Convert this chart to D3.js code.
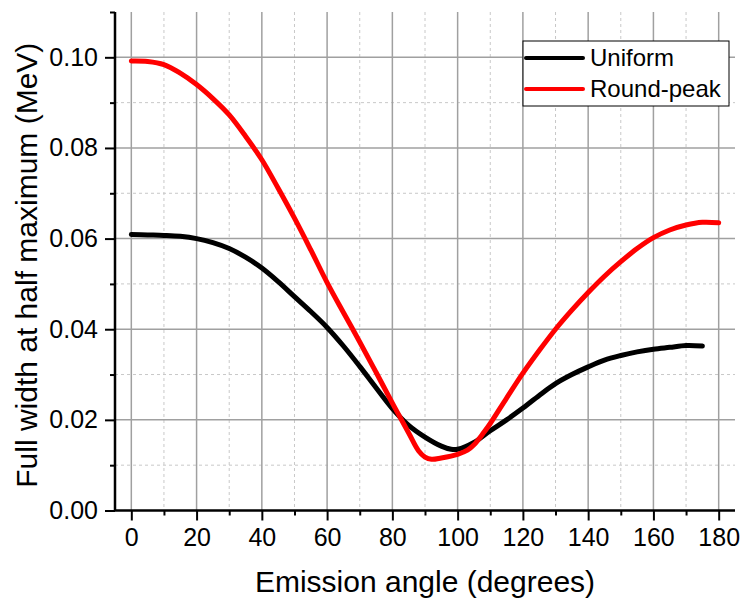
<!DOCTYPE html>
<html>
<head>
<meta charset="utf-8">
<script src="https://cdn.jsdelivr.net/npm/d3@7"></script>
<style>
  html, body { margin: 0; padding: 0; background: #fff; }
  svg { display: block; font-family: "Liberation Sans", Arial, sans-serif; }
</style>
</head>
<body>
<svg id="chart" width="742" height="602"></svg>
<script>
// Emission angle (degrees) and FWHM (MeV) for the two source profiles
const uniformAngles = [0, 5, 10, 15, 20, 25, 30, 35, 40, 45, 50, 55, 60, 65, 70, 75, 80, 85, 90, 95, 98, 100, 105, 110, 115, 120, 125, 130, 135, 140, 145, 150, 155, 160, 165, 170, 175];
const uniformFwhm = [0.0609, 0.0608, 0.0607, 0.0605, 0.0600, 0.0591, 0.0578, 0.0559, 0.0535, 0.0505, 0.0472, 0.0439, 0.0404, 0.0363, 0.0318, 0.0271, 0.0225, 0.0188, 0.0162, 0.0142, 0.0135, 0.0135, 0.0150, 0.0176, 0.0200, 0.0226, 0.0254, 0.0280, 0.0300, 0.0317, 0.0332, 0.0342, 0.0350, 0.0356, 0.0360, 0.0364, 0.0363];

const roundAngles = [0, 5, 10, 15, 20, 25, 30, 35, 40, 45, 50, 55, 60, 65, 70, 75, 80, 85, 88, 90, 92, 95, 100, 103, 105, 108, 110, 115, 120, 125, 130, 135, 140, 145, 150, 155, 160, 165, 170, 175, 180];
const roundFwhm = [0.0992, 0.0991, 0.0984, 0.0965, 0.0940, 0.0909, 0.0873, 0.0826, 0.0774, 0.0711, 0.0645, 0.0575, 0.0503, 0.0437, 0.0372, 0.0305, 0.0237, 0.0171, 0.0132, 0.0118, 0.0113, 0.0116, 0.0124, 0.0133, 0.0145, 0.0172, 0.0192, 0.0248, 0.0303, 0.0353, 0.0400, 0.0442, 0.0481, 0.0517, 0.0549, 0.0578, 0.0602, 0.0619, 0.0630, 0.0636, 0.0635];

const seriesNames = ["Uniform", "Round-peak"];
const seriesColors = ["#000000", "#ff0000"];

const xMajorTicks = [0, 20, 40, 60, 80, 100, 120, 140, 160, 180];
const xMinorTicks = [10, 30, 50, 70, 90, 110, 130, 150, 170];
const yMajorTicks = [0, 0.02, 0.04, 0.06, 0.08, 0.10];
const yMinorTicks = [0.01, 0.03, 0.05, 0.07, 0.09, 0.11];

const xTitle = "Emission angle (degrees)";
const yTitle = "Full width at half maximum (MeV)";

const svg = d3.select("#chart");
const plotLeft = 115, plotRight = 735, plotTop = 12, plotBottom = 510.5;

const x = d3.scaleLinear().domain([-5, 185]).range([plotLeft, plotRight]);
const y = d3.scaleLinear().domain([0, 0.11]).range([plotBottom, plotTop]);

// grid: dashed minor, solid major
const grid = svg.append("g");
grid.selectAll(".vminor").data(xMinorTicks).join("line")
  .attr("x1", d => x(d)).attr("x2", d => x(d)).attr("y1", plotTop).attr("y2", plotBottom)
  .attr("stroke", "#c8c8c8").attr("stroke-width", 1).attr("stroke-dasharray", "3,3");
grid.selectAll(".hminor").data(yMinorTicks.filter(d => d < 0.11)).join("line")
  .attr("x1", plotLeft).attr("x2", plotRight).attr("y1", d => y(d)).attr("y2", d => y(d))
  .attr("stroke", "#c8c8c8").attr("stroke-width", 1).attr("stroke-dasharray", "3,3");
grid.selectAll(".vmajor").data(xMajorTicks).join("line")
  .attr("x1", d => x(d)).attr("x2", d => x(d)).attr("y1", plotTop).attr("y2", plotBottom)
  .attr("stroke", "#a0a0a0").attr("stroke-width", 1.5);
grid.selectAll(".hmajor").data(yMajorTicks.filter(d => d > 0)).join("line")
  .attr("x1", plotLeft).attr("x2", plotRight).attr("y1", d => y(d)).attr("y2", d => y(d))
  .attr("stroke", "#a0a0a0").attr("stroke-width", 1.5);

// axes
const tickFont = 25;
const xAxisMinor = d3.axisBottom(x).tickValues(xMinorTicks).tickSize(5).tickFormat("");
const xAxisMajor = d3.axisBottom(x).tickValues(xMajorTicks).tickSize(10).tickPadding(8).tickFormat(d3.format("d"));
const yAxisMinor = d3.axisLeft(y).tickValues(yMinorTicks).tickSize(5).tickFormat("");
const yAxisMajor = d3.axisLeft(y).tickValues(yMajorTicks).tickSize(10).tickPadding(7).tickFormat(d3.format(".2f"));

function styleAxis(g) {
  g.select(".domain").remove();
  g.selectAll("line").attr("stroke", "#000").attr("stroke-width", 2);
  g.selectAll("text").attr("fill", "#000").style("font-size", tickFont + "px")
    .style("font-family", '"Liberation Sans", Arial, sans-serif');
}

svg.append("g").attr("transform", `translate(0,${plotBottom})`).call(xAxisMinor).call(styleAxis);
svg.append("g").attr("transform", `translate(0,${plotBottom})`).call(xAxisMajor).call(styleAxis);
svg.append("g").attr("transform", `translate(${plotLeft},0)`).call(yAxisMinor).call(styleAxis);
svg.append("g").attr("transform", `translate(${plotLeft},0)`).call(yAxisMajor).call(styleAxis);

svg.append("line").attr("x1", plotLeft).attr("x2", plotRight).attr("y1", plotBottom).attr("y2", plotBottom)
  .attr("stroke", "#000").attr("stroke-width", 2.5);
svg.append("line").attr("x1", plotLeft).attr("x2", plotLeft).attr("y1", plotTop).attr("y2", plotBottom)
  .attr("stroke", "#000").attr("stroke-width", 2.5);

// axis titles
svg.append("text").attr("x", (plotLeft + plotRight) / 2).attr("y", 592)
  .attr("text-anchor", "middle").style("font-size", "30px").text(xTitle);
svg.append("text").attr("transform", `translate(37,${(plotTop + plotBottom) / 2 + 4}) rotate(-90)`)
  .attr("text-anchor", "middle").style("font-size", "30px").text(yTitle);

// curves
const line = d3.line()
  .x(d => x(d[0])).y(d => y(d[1]))
  .curve(d3.curveCatmullRom.alpha(0.5));

const series = [
  d3.zip(uniformAngles, uniformFwhm),
  d3.zip(roundAngles, roundFwhm)
];

svg.append("g").selectAll("path").data(series).join("path")
  .attr("d", line)
  .attr("fill", "none")
  .attr("stroke", (d, i) => seriesColors[i])
  .attr("stroke-width", 5)
  .attr("stroke-linecap", "round")
  .attr("stroke-linejoin", "round");

// legend
const legend = svg.append("g").attr("transform", "translate(523,41)");
legend.append("rect").attr("x", 0).attr("y", 0).attr("width", 206).attr("height", 65)
  .attr("fill", "#fff").attr("stroke", "#000").attr("stroke-width", 1);
const items = legend.selectAll(".item").data(seriesNames).join("g")
  .attr("transform", (d, i) => `translate(0,${17 + i * 31})`);
items.append("line").attr("x1", 3).attr("x2", 60).attr("y1", 0).attr("y2", 0)
  .attr("stroke", (d, i) => seriesColors[i]).attr("stroke-width", 4).attr("stroke-linecap", "round");
items.append("text").attr("x", 67).attr("y", 0).attr("dy", "0.35em")
  .style("font-size", "24px").text(d => d);
</script>
</body>
</html>
